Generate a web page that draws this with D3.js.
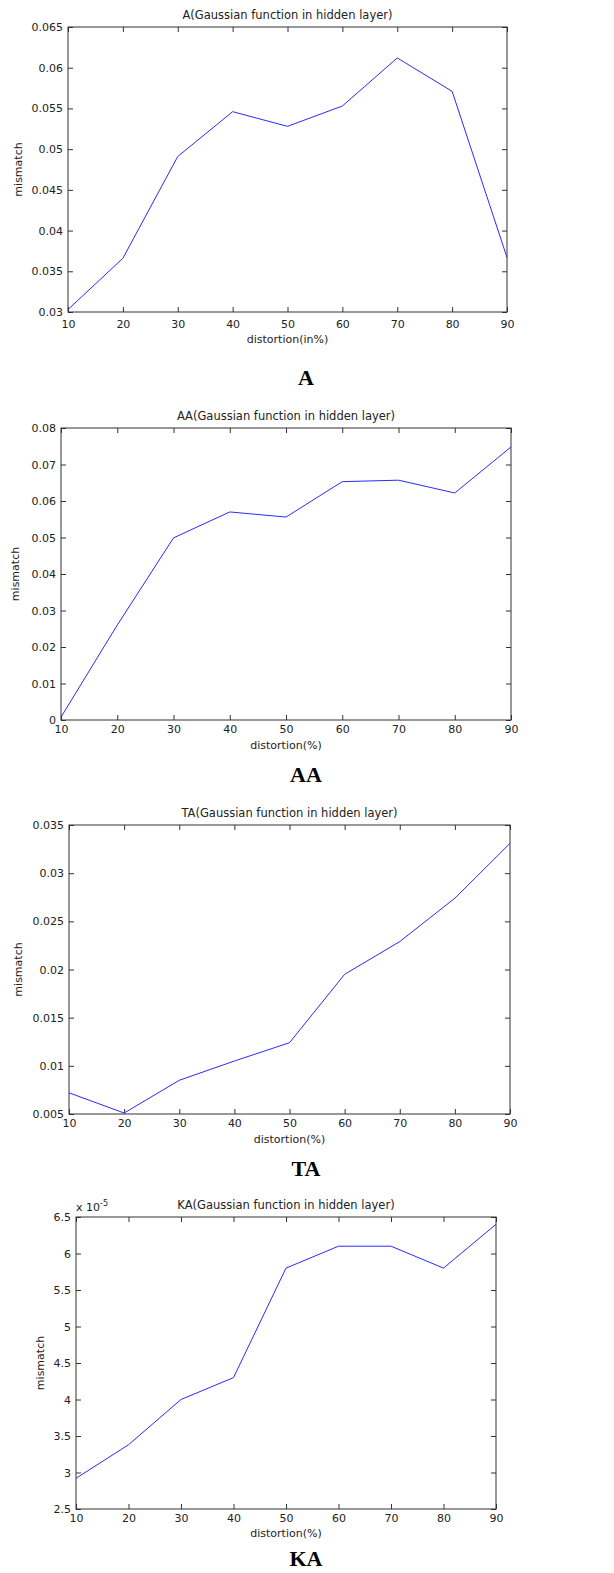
<!DOCTYPE html>
<html>
<head>
<meta charset="utf-8">
<script src="https://cdn.jsdelivr.net/npm/d3@7"></script>
<style>
  body { margin: 0; background: #fff; }
  svg { display: block; }
  .tick text, .xl, .yl, .mult { font-family: "DejaVu Sans", sans-serif; font-size: 11px; fill: #222; }
  .ttl { font-family: "DejaVu Sans", sans-serif; font-size: 11.5px; fill: #222; }
  .big { font-family: "Liberation Serif", serif; font-weight: bold; font-size: 22px; fill: #000; }
</style>
</head>
<body>
<svg width="614" height="1573"></svg>
<script>
// x values, common to all four plots
var distortion = [10, 20, 30, 40, 50, 60, 70, 80, 90];
var xTicks = [10, 20, 30, 40, 50, 60, 70, 80, 90];

// mismatch
var mismatchA  = [0.0303, 0.0366, 0.0491, 0.0546, 0.0528, 0.0553, 0.0612, 0.0571, 0.0367];
var mismatchAA = [0.0008, 0.026, 0.0499, 0.057, 0.0556, 0.0653, 0.0657, 0.0622, 0.0748];
var mismatchTA = [0.0072, 0.0051, 0.0085, 0.0105, 0.0124, 0.0195, 0.0229, 0.0274, 0.0331];
var mismatchKA = [2.92, 3.38, 4.0, 4.3, 5.8, 6.1, 6.1, 5.8, 6.4]; // x 10^-5

var yTicksA  = [0.03, 0.035, 0.04, 0.045, 0.05, 0.055, 0.06, 0.065];
var yTicksAA = [0, 0.01, 0.02, 0.03, 0.04, 0.05, 0.06, 0.07, 0.08];
var yTicksTA = [0.005, 0.01, 0.015, 0.02, 0.025, 0.03, 0.035];
var yTicksKA = [2.5, 3, 3.5, 4, 4.5, 5, 5.5, 6, 6.5];

var panels = [
  {name: "A",  title: "A(Gaussian function in hidden layer)",  xlabel: "distortion(in%)", y: mismatchA,  ticks: yTicksA,
   box: [68, 27, 507, 312], pad: 8, xlY: 27, ylX: 18, bigY: 385},
  {name: "AA", title: "AA(Gaussian function in hidden layer)", xlabel: "distortion(%)", y: mismatchAA, ticks: yTicksAA,
   box: [61, 428, 511, 720], pad: 5, xlY: 25, ylX: 15, bigY: 782},
  {name: "TA", title: "TA(Gaussian function in hidden layer)", xlabel: "distortion(%)", y: mismatchTA, ticks: yTicksTA,
   box: [69, 825, 510, 1114], pad: 5, xlY: 25, ylX: 18, bigY: 1176},
  {name: "KA", title: "KA(Gaussian function in hidden layer)", xlabel: "distortion(%)", y: mismatchKA, ticks: yTicksKA,
   box: [76, 1217, 496, 1509], pad: 5, xlY: 24, ylX: 40, bigY: 1566, mult: true}
];

var svg = d3.select("svg");

panels.forEach(function(p) {
  var x0 = p.box[0], y0 = p.box[1], x1 = p.box[2], y1 = p.box[3];
  var x = d3.scaleLinear().domain([10, 90]).range([x0, x1]);
  var y = d3.scaleLinear().domain(d3.extent(p.ticks)).range([y1, y0]);
  var g = svg.append("g");
  var fmt = function(d) { return String(+d.toFixed(4)); };

  // ticks pointing inward on all four sides
  g.append("g").attr("transform", "translate(0," + y1 + ")")
    .call(d3.axisBottom(x).tickValues(xTicks).tickSize(-5).tickPadding(p.pad).tickFormat(fmt));
  g.append("g").attr("transform", "translate(0," + y0 + ")")
    .call(d3.axisTop(x).tickValues(xTicks).tickSize(-5).tickFormat(""));
  g.append("g").attr("transform", "translate(" + x0 + ",0)")
    .call(d3.axisLeft(y).tickValues(p.ticks).tickSize(-5).tickPadding(5).tickFormat(fmt));
  g.append("g").attr("transform", "translate(" + x1 + ",0)")
    .call(d3.axisRight(y).tickValues(p.ticks).tickSize(-5).tickFormat(""));
  g.selectAll(".domain").remove();
  g.selectAll(".tick line").attr("stroke", "#333");

  g.append("rect")
    .attr("x", x0).attr("y", y0).attr("width", x1 - x0).attr("height", y1 - y0)
    .attr("fill", "none").attr("stroke", "#333").attr("stroke-width", 1);

  var line = d3.line().x(function(d, i) { return x(distortion[i]); }).y(function(d) { return y(d); });
  g.append("path").datum(p.y)
    .attr("d", line).attr("fill", "none").attr("stroke", "#2a2aff").attr("stroke-width", 1);

  var cx = (x0 + x1) / 2;
  g.append("text").attr("class", "ttl").attr("x", cx).attr("y", y0 - 8)
    .attr("text-anchor", "middle").text(p.title);
  g.append("text").attr("class", "xl").attr("x", cx).attr("y", y1 + p.xlY + 4)
    .attr("text-anchor", "middle").text(p.xlabel);
  g.append("text").attr("class", "yl")
    .attr("transform", "translate(" + (p.ylX + 4) + "," + ((y0 + y1) / 2) + ") rotate(-90)")
    .attr("text-anchor", "middle").text("mismatch");
  g.append("text").attr("class", "big").attr("x", 306).attr("y", p.bigY)
    .attr("text-anchor", "middle").text(p.name);

  if (p.mult) {
    var m = g.append("text").attr("class", "mult").attr("x", x0).attr("y", y0 - 6);
    m.append("tspan").text("x 10");
    m.append("tspan").attr("dy", -5).attr("font-size", "8px").text("-5");
  }
});
</script>
</body>
</html>
